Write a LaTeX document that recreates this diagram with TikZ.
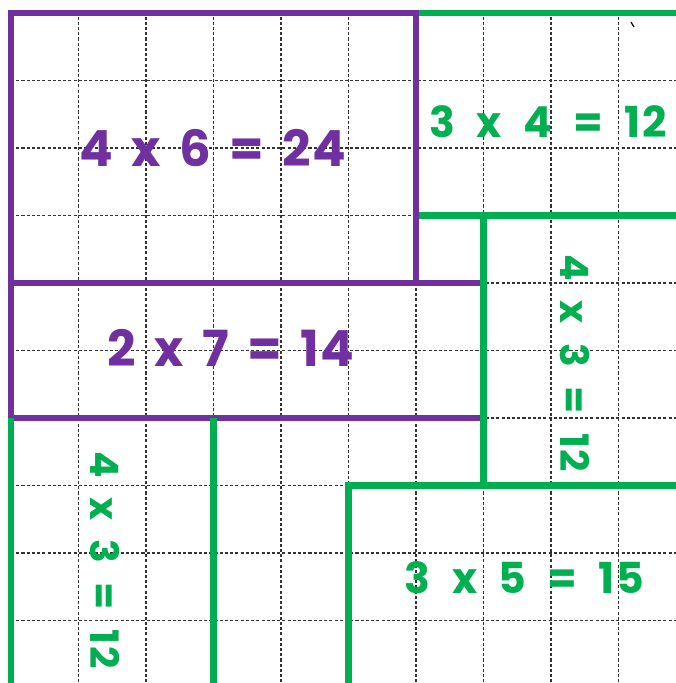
\documentclass[tikz,border=0pt]{standalone}
\usepackage{fontspec}
\newfontfamily\handfont[LetterSpace=4]{Poppins}
\newcommand\purplefont{\handfont\bfseries\fontsize{21}{24}\selectfont\spaceskip 0.37em\relax}
\newcommand\greenfont{\handfont\bfseries\fontsize{18}{22}\selectfont\spaceskip 0.5em\relax}
\newcommand\sidefont{\handfont\bfseries\fontsize{16.5}{20}\selectfont\spaceskip 0.5em\relax}
\definecolor{boxpurple}{HTML}{7030A0}
\definecolor{boxgreen}{HTML}{00B050}
\definecolor{gridgray}{HTML}{333333}

\begin{document}
\begin{tikzpicture}[
  gridline/.style={gridgray, line width=0.45pt, dash pattern=on 1.3pt off 0.9pt},
  purpleline/.style={boxpurple, line width=2.8pt},
  greenline/.style={boxgreen, line width=2.8pt},
  purplelabel/.style={text=boxpurple, font=\purplefont},
  greenlabel/.style={text=boxgreen, font=\greenfont},
  greenupright/.style={text=boxgreen, rotate=-90, font=\sidefont}]

% Page
\useasboundingbox (-0.163,0.193) rectangle (9.852,-9.926);
\fill[white] (-0.163,0.193) rectangle (9.852,-9.926);

% Squared paper (1 cell = 1 unit)
\begin{scope}
  \clip (-0.163,0.193) rectangle (9.852,-9.926);
  \draw[gridline] (0,-11) grid (11,0);

  % Green: 3 x 4 strip at the top right
  \draw[greenline] (6,0) -- (11,0);
  \draw[greenline] (6,-3) -- (11,-3);

  % Purple: 4 x 6 and 2 x 7
  \draw[purpleline] (0,0) rectangle (6,-4);
  \draw[purpleline] (0,-4) rectangle (7,-6);

  % Green: 4 x 3 on the right
  \draw[greenline] (7,-3) -- (7,-7);

  % Green: 4 x 3 at the bottom left
  \draw[greenline] (0,-6) -- (0,-11);
  \draw[greenline] (3,-6) -- (3,-11);

  % Green: 3 x 5 at the bottom right
  \draw[greenline] (5,-11) -- (5,-7) -- (11,-7);

  % stray pen mark
  \draw[black, line width=0.5pt] (9.185,-0.133) -- (9.23,-0.207);
\end{scope}

% Labels
\node[purplelabel] (big) at (2.99,-2.0) {4 x 6 = 24};
\node[purplelabel] (wide) at (3.26,-4.96) {2 x 7 = 14};
\node[greenlabel] (topright) at (7.96,-1.61) {3 x 4 = 12};
\node[greenupright] (sideright) at (8.36,-5.19) {4 x 3 = 12};
\node[greenupright] (sideleft) at (1.39,-8.10) {4 x 3 = 12};
\node[greenlabel] (bottomright) at (7.61,-8.37) {3 x 5 = 15};

\end{tikzpicture}
\end{document}
